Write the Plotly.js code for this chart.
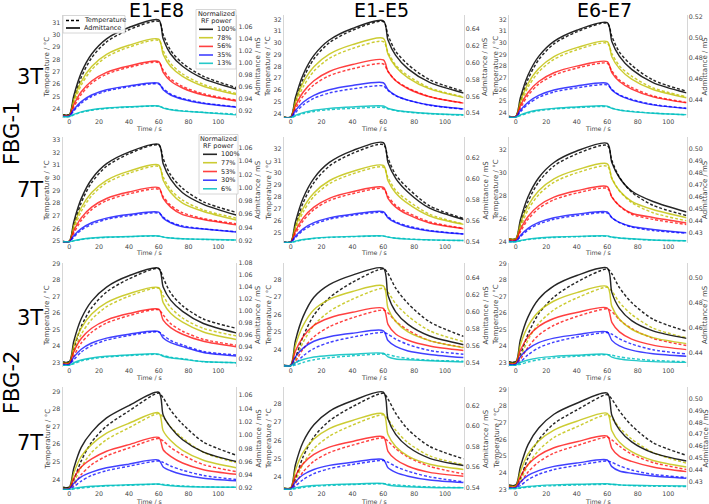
<!DOCTYPE html>
<html>
<head>
<meta charset="utf-8">
<script src="https://cdn.plot.ly/plotly-3.0.1.min.js"></script>
<style>
  html, body { margin: 0; padding: 0; background: #ffffff; }
  #chart { width: 709px; height: 504px; }
</style>
</head>
<body>
<div id="chart"></div>
<script>
// Sample times (s) shared by every curve; RF heating is on from 0 s to 60 s
const time = [-5, 0, 3, 8, 15, 25, 40, 60, 63, 68, 76, 90, 112];

const columnTitles = ['E1-E8', 'E1-E5', 'E6-E7'];
const rowLabels = ['3T', '7T', '3T', '7T'];
const sensorLabels = ['FBG-1', 'FBG-2'];
const power3T = ['100%', '78%', '56%', '35%', '13%'];
const power7T = ['100%', '77%', '53%', '30%', '6%'];

// Each set: five curves, from the highest to the lowest normalized RF power.
// temp_* = FBG temperature (°C), adm_* = electrode admittance (mS)
const temp_FBG1_3T_E1E8 = [
  [23.52,23.52,24.73,26.55,28.14,29.43,30.42,31.1,30.04,28.75,27.69,26.63,25.72],
  [23.48,23.48,24.45,25.91,27.18,28.21,29.0,29.55,28.7,27.67,26.82,25.97,25.24],
  [23.44,23.44,24.13,25.16,26.07,26.8,27.36,27.75,27.15,26.41,25.81,25.21,24.69],
  [23.4,23.4,23.82,24.44,24.99,25.43,25.77,26.0,25.64,25.19,24.83,24.47,24.15],
  [23.36,23.36,23.49,23.7,23.87,24.02,24.12,24.2,24.08,23.94,23.82,23.7,23.55]];
const adm_FBG1_3T_E1E8 = [
  [0.9141,0.9141,0.9455,0.9833,1.0147,1.0399,1.0587,1.0713,1.0399,1.0147,0.9943,0.9738,0.9565],
  [0.9133,0.9133,0.9385,0.9687,0.9939,1.0141,1.0292,1.0393,1.0141,0.9939,0.9776,0.9612,0.9473],
  [0.9125,0.9125,0.9304,0.9519,0.9698,0.9842,0.9949,1.0021,0.9842,0.9698,0.9582,0.9465,0.9367],
  [0.9117,0.9117,0.9226,0.9357,0.9466,0.9553,0.9618,0.9662,0.9553,0.9466,0.9395,0.9324,0.9264],
  [0.9108,0.9108,0.9143,0.9185,0.9221,0.9249,0.927,0.9284,0.9249,0.9221,0.9198,0.9175,0.9136]];

const temp_FBG1_3T_E1E5 = [
  [23.68,23.68,24.98,26.93,28.63,30.01,31.07,31.8,30.66,29.28,28.15,26.85,25.87],
  [23.66,23.66,24.69,26.24,27.59,28.68,29.52,30.1,29.2,28.1,27.2,26.17,25.4],
  [23.64,23.64,24.37,25.46,26.42,27.2,27.79,28.2,27.56,26.79,26.15,25.42,24.87],
  [23.63,23.63,24.06,24.71,25.27,25.73,26.08,26.32,25.94,25.49,25.11,24.68,24.36],
  [23.62,23.62,23.76,23.97,24.16,24.31,24.42,24.5,24.38,24.23,24.1,23.96,23.84]];
const adm_FBG1_3T_E1E5 = [
  [0.5355,0.5355,0.5583,0.5856,0.6084,0.6266,0.6403,0.6494,0.6266,0.6084,0.5925,0.5765,0.564],
  [0.5352,0.5352,0.5539,0.5763,0.595,0.6099,0.6211,0.6286,0.6099,0.595,0.5819,0.5688,0.5586],
  [0.535,0.535,0.5486,0.5649,0.5785,0.5894,0.5976,0.603,0.5894,0.5785,0.569,0.5595,0.552],
  [0.5348,0.5348,0.5431,0.553,0.5612,0.5678,0.5728,0.5761,0.5678,0.5612,0.5555,0.5497,0.5451],
  [0.5347,0.5347,0.5375,0.5408,0.5436,0.5458,0.5475,0.5486,0.5458,0.5436,0.5417,0.5397,0.5382]];

const temp_FBG1_3T_E6E7 = [
  [23.7,23.7,24.97,26.88,28.55,29.9,30.93,31.65,30.54,29.19,28.07,26.8,25.85],
  [23.68,23.68,24.68,26.19,27.5,28.57,29.39,29.95,29.07,28.01,27.13,26.13,25.37],
  [23.66,23.66,24.39,25.49,26.45,27.22,27.82,28.23,27.59,26.81,26.17,25.44,24.89],
  [23.64,23.64,24.08,24.74,25.31,25.78,26.13,26.38,26.0,25.53,25.15,24.71,24.38],
  [23.62,23.62,23.76,23.98,24.17,24.32,24.44,24.52,24.39,24.24,24.12,23.97,23.82]];
const adm_FBG1_3T_E6E7 = [
  [0.4235,0.4235,0.4417,0.4636,0.4818,0.4964,0.5073,0.5146,0.4964,0.4818,0.4691,0.4563,0.4463],
  [0.4233,0.4233,0.4379,0.4553,0.4699,0.4815,0.4903,0.4961,0.4815,0.4699,0.4597,0.4495,0.4415],
  [0.4231,0.4231,0.4338,0.4466,0.4573,0.4659,0.4723,0.4766,0.4659,0.4573,0.4499,0.4424,0.4365],
  [0.4228,0.4228,0.4294,0.4372,0.4438,0.449,0.453,0.4556,0.449,0.4438,0.4392,0.4346,0.431],
  [0.4226,0.4226,0.4248,0.4274,0.4295,0.4312,0.4325,0.4334,0.4312,0.4295,0.428,0.4265,0.4251]];

const temp_FBG1_7T_E1E8 = [
  [24.98,24.98,26.2,28.03,29.63,30.92,31.91,32.6,31.53,30.24,29.17,28.1,27.27],
  [24.97,24.97,25.92,27.34,28.59,29.6,30.37,30.9,30.07,29.06,28.23,27.46,26.81],
  [24.96,24.96,25.62,26.62,27.49,28.19,28.73,29.1,28.52,27.82,27.24,26.78,26.37],
  [24.95,24.95,25.31,25.85,26.32,26.71,27.0,27.2,26.89,26.5,26.19,25.96,25.74],
  [24.94,24.94,25.01,25.12,25.21,25.28,25.34,25.38,25.32,25.24,25.18,25.12,25.07]];
const adm_FBG1_7T_E1E8 = [
  [0.9192,0.9192,0.9484,0.9834,1.0126,1.036,1.0535,1.0652,1.036,1.0126,0.9922,0.9747,0.9586],
  [0.919,0.919,0.942,0.9696,0.9926,1.011,1.0248,1.034,1.011,0.9926,0.9765,0.9639,0.9512],
  [0.9188,0.9188,0.935,0.9544,0.9706,0.9836,0.9933,0.9998,0.9836,0.9706,0.9593,0.952,0.9439],
  [0.9186,0.9186,0.9275,0.9381,0.947,0.954,0.9594,0.9629,0.954,0.947,0.9408,0.9376,0.9332],
  [0.9184,0.9184,0.9201,0.9222,0.924,0.9254,0.9264,0.9271,0.9254,0.924,0.9228,0.9221,0.921]];

const temp_FBG1_7T_E1E5 = [
  [24.28,24.28,25.57,27.51,29.2,30.57,31.62,32.35,31.22,29.85,28.72,27.27,26.22],
  [24.27,24.27,25.26,26.75,28.06,29.11,29.92,30.48,29.61,28.55,27.69,26.57,25.76],
  [24.26,24.26,24.97,26.03,26.96,27.71,28.28,28.68,28.06,27.31,26.69,25.94,25.41],
  [24.25,24.25,24.64,25.23,25.74,26.16,26.48,26.7,26.36,25.94,25.6,25.23,24.94],
  [24.24,24.24,24.32,24.45,24.56,24.65,24.71,24.76,24.69,24.6,24.53,24.44,24.39]];
const adm_FBG1_7T_E1E5 = [
  [0.5397,0.5397,0.5586,0.5813,0.6002,0.6153,0.6266,0.6342,0.6153,0.6002,0.587,0.5718,0.561],
  [0.5396,0.5396,0.5542,0.5717,0.5863,0.5979,0.6067,0.6125,0.5979,0.5863,0.5761,0.5644,0.5564],
  [0.5395,0.5395,0.5499,0.5624,0.5728,0.5812,0.5874,0.5916,0.5812,0.5728,0.5656,0.5577,0.5523],
  [0.5394,0.5394,0.5452,0.5522,0.558,0.5626,0.5661,0.5684,0.5626,0.558,0.5539,0.5501,0.5472],
  [0.5393,0.5393,0.5405,0.542,0.5433,0.5443,0.545,0.5455,0.5443,0.5433,0.5424,0.5417,0.541]];

const temp_FBG1_7T_E6E7 = [
  [24.25,24.25,25.55,27.51,29.22,30.61,31.67,32.4,31.1,29.63,28.33,27.18,26.29],
  [24.25,24.25,25.26,26.78,28.11,29.19,30.01,30.58,29.57,28.43,27.42,26.53,25.83],
  [24.15,24.15,24.87,25.95,26.9,27.66,28.25,28.65,27.93,27.12,26.4,25.95,25.5],
  [24.05,24.05,24.44,25.03,25.54,25.96,26.28,26.5,26.11,25.67,25.28,24.98,24.74],
  [24.0,24.0,24.08,24.19,24.29,24.37,24.44,24.48,24.4,24.32,24.24,24.14,24.08]];
const adm_FBG1_7T_E6E7 = [
  [0.4253,0.4253,0.4411,0.46,0.4758,0.4884,0.4979,0.5042,0.4884,0.4758,0.4648,0.4561,0.4474],
  [0.4253,0.4253,0.4377,0.4526,0.465,0.4749,0.4823,0.4873,0.4749,0.465,0.4563,0.4495,0.4427],
  [0.4243,0.4243,0.4331,0.4437,0.4526,0.4597,0.465,0.4685,0.4597,0.4526,0.4464,0.4429,0.4384],
  [0.4233,0.4233,0.4281,0.4339,0.4388,0.4427,0.4456,0.4475,0.4427,0.4388,0.4354,0.433,0.4303],
  [0.4229,0.4229,0.4239,0.425,0.426,0.4267,0.4273,0.4277,0.4267,0.426,0.4253,0.4243,0.4237]];

const temp_FBG2_3T_E1E8 = [
  [23.05,23.05,23.84,25.19,26.32,27.27,28.06,28.68,28.12,27.22,26.43,25.64,25.08],
  [23.0,23.0,23.63,24.71,25.61,26.38,27.01,27.5,27.05,26.33,25.7,25.07,24.62],
  [22.95,22.95,23.41,24.19,24.84,25.39,25.84,26.2,25.88,25.36,24.9,24.41,24.06],
  [22.9,22.9,23.17,23.64,24.03,24.36,24.64,24.85,24.66,24.34,24.07,23.68,23.47],
  [22.85,22.85,22.94,23.1,23.23,23.34,23.43,23.5,23.44,23.33,23.24,23.06,23.0]];
const adm_FBG2_3T_E1E8 = [
  [0.914,0.914,0.9486,0.9864,1.0162,1.0398,1.0587,1.0713,1.0398,1.0178,0.9989,0.9785,0.9628],
  [0.9126,0.9126,0.9403,0.9706,0.9946,1.0135,1.0286,1.0387,1.0135,0.9958,0.9807,0.9643,0.9517],
  [0.9112,0.9112,0.9313,0.9532,0.9705,0.9842,0.9952,1.0025,0.9842,0.9715,0.9605,0.9486,0.9395],
  [0.9099,0.9099,0.922,0.9352,0.9457,0.954,0.9606,0.965,0.954,0.9463,0.9397,0.9297,0.9237],
  [0.9085,0.9085,0.9126,0.9171,0.9206,0.9234,0.9256,0.9271,0.9234,0.9208,0.9185,0.9145,0.9126]];

const temp_FBG2_3T_E1E5 = [
  [23.1,23.1,23.54,24.75,25.96,26.95,27.83,28.6,28.33,27.5,26.62,25.58,24.75],
  [23.09,23.09,23.44,24.41,25.38,26.17,26.87,27.49,27.27,26.61,25.91,25.07,24.45],
  [23.08,23.08,23.33,24.03,24.73,25.3,25.81,26.25,26.09,25.62,25.11,24.51,24.13],
  [23.07,23.07,23.22,23.64,24.06,24.41,24.71,24.98,24.88,24.6,24.29,23.95,23.74],
  [23.06,23.06,23.12,23.27,23.42,23.54,23.65,23.75,23.72,23.61,23.5,23.4,23.34]];
const adm_FBG2_3T_E1E5 = [
  [0.5368,0.5368,0.5653,0.5937,0.6165,0.6313,0.6426,0.6506,0.6187,0.5994,0.5846,0.5709,0.5607],
  [0.5366,0.5366,0.5599,0.5832,0.6018,0.614,0.6233,0.6298,0.6037,0.5879,0.5757,0.5655,0.5571],
  [0.5364,0.5364,0.5532,0.57,0.5834,0.5921,0.5988,0.6035,0.5847,0.5733,0.5659,0.5592,0.5538],
  [0.5362,0.5362,0.5464,0.5567,0.5648,0.5701,0.5742,0.5771,0.5656,0.5587,0.5534,0.5493,0.5456],
  [0.536,0.536,0.5397,0.5433,0.5462,0.5481,0.5496,0.5506,0.5465,0.544,0.543,0.5418,0.5404]];

const temp_FBG2_3T_E6E7 = [
  [23.05,23.05,23.5,24.73,25.96,26.97,27.87,28.65,28.37,27.53,26.63,25.63,24.9],
  [23.0,23.0,23.36,24.37,25.37,26.19,26.91,27.55,27.32,26.64,25.91,25.09,24.5],
  [22.95,22.95,23.21,23.94,24.67,25.26,25.79,26.25,26.09,25.59,25.06,24.47,24.04],
  [22.9,22.9,23.05,23.48,23.9,24.24,24.55,24.82,24.72,24.44,24.13,23.78,23.53],
  [22.85,22.85,22.9,23.04,23.18,23.29,23.39,23.48,23.45,23.35,23.25,23.14,23.06]];
const adm_FBG2_3T_E6E7 = [
  [0.4329,0.4329,0.4509,0.4689,0.4832,0.4937,0.502,0.508,0.4885,0.4757,0.4659,0.4577,0.4517],
  [0.4322,0.4322,0.4468,0.4615,0.4731,0.4816,0.4883,0.4932,0.4773,0.467,0.459,0.4523,0.4475],
  [0.4316,0.4316,0.4423,0.4529,0.4613,0.4676,0.4724,0.476,0.4645,0.4569,0.4511,0.4463,0.4427],
  [0.4309,0.4309,0.4371,0.4433,0.4483,0.4519,0.4547,0.4568,0.4501,0.4457,0.4423,0.4394,0.4374],
  [0.4303,0.4303,0.4324,0.4344,0.4361,0.4373,0.4382,0.4389,0.4367,0.4352,0.4341,0.4331,0.4325]];

const temp_FBG2_7T_E1E8 = [
  [23.55,23.55,23.98,25.05,26.13,27.04,27.9,28.92,28.65,27.95,27.15,26.13,25.38],
  [23.5,23.5,23.84,24.69,25.54,26.26,26.94,27.75,27.54,26.99,26.35,25.54,24.95],
  [23.47,23.47,23.7,24.27,24.84,25.33,25.79,26.33,26.19,25.82,25.39,24.84,24.44],
  [23.45,23.45,23.58,23.9,24.22,24.49,24.75,25.05,24.97,24.76,24.52,24.22,23.99],
  [23.42,23.42,23.44,23.5,23.56,23.62,23.66,23.72,23.71,23.67,23.62,23.57,23.54]];
const adm_FBG2_7T_E1E8 = [
  [0.9216,0.9216,0.9501,0.9815,1.0043,1.0257,1.0442,1.0642,1.03,1.0114,0.9929,0.9744,0.9601],
  [0.9203,0.9203,0.9429,0.9678,0.9859,1.0029,1.0176,1.0334,1.0063,0.9916,0.9769,0.9621,0.9508],
  [0.9195,0.9195,0.9349,0.9518,0.964,0.9756,0.9855,0.9963,0.9779,0.9679,0.9579,0.9479,0.941],
  [0.919,0.919,0.9277,0.9372,0.9442,0.9507,0.9563,0.9624,0.952,0.9463,0.9407,0.9351,0.9312],
  [0.9182,0.9182,0.9198,0.9216,0.9229,0.9241,0.9252,0.9263,0.9248,0.9238,0.9227,0.922,0.9214]];

const temp_FBG2_7T_E1E5 = [
  [23.38,23.38,23.9,25.1,26.19,27.07,27.85,28.58,28.27,27.49,26.6,25.67,24.99],
  [23.38,23.38,23.78,24.71,25.55,26.23,26.84,27.4,27.16,26.56,25.87,25.15,24.67],
  [23.36,23.36,23.64,24.27,24.86,25.33,25.74,26.13,25.96,25.55,25.08,24.58,24.16],
  [23.34,23.34,23.5,23.85,24.18,24.45,24.68,24.9,24.81,24.57,24.31,24.0,23.73],
  [23.32,23.32,23.35,23.42,23.48,23.53,23.58,23.62,23.6,23.56,23.51,23.45,23.41]];
const adm_FBG2_7T_E1E5 = [
  [0.5397,0.5397,0.5621,0.5844,0.6012,0.6143,0.6245,0.6329,0.6068,0.5919,0.5798,0.5686,0.5616],
  [0.5397,0.5397,0.557,0.5744,0.5874,0.5975,0.6054,0.6119,0.5917,0.5801,0.5707,0.5628,0.5578],
  [0.5393,0.5393,0.5513,0.5634,0.5724,0.5795,0.585,0.5895,0.5754,0.5674,0.5609,0.5549,0.5511],
  [0.539,0.539,0.5458,0.5526,0.5577,0.5617,0.5648,0.5674,0.5594,0.5549,0.5512,0.5475,0.545],
  [0.5386,0.5386,0.5399,0.5412,0.5422,0.543,0.5436,0.5441,0.5426,0.5417,0.541,0.5403,0.5399]];

const temp_FBG2_7T_E6E7 = [
  [23.25,23.25,23.68,24.88,25.97,26.94,27.76,28.68,28.41,27.7,26.83,25.8,25.04],
  [23.2,23.2,23.54,24.48,25.34,26.11,26.75,27.48,27.27,26.71,26.02,25.21,24.57],
  [23.15,23.15,23.39,24.04,24.64,25.17,25.62,26.12,25.97,25.59,25.11,24.61,24.19],
  [23.1,23.1,23.23,23.58,23.9,24.19,24.43,24.7,24.62,24.41,24.16,23.9,23.71],
  [23.05,23.05,23.07,23.13,23.18,23.22,23.26,23.3,23.29,23.26,23.22,23.19,23.17]];
const adm_FBG2_7T_E6E7 = [
  [0.4271,0.4271,0.4426,0.4612,0.4752,0.4868,0.4961,0.5046,0.486,0.4736,0.4635,0.4542,0.4473],
  [0.4264,0.4264,0.4386,0.4533,0.4643,0.4735,0.4809,0.4876,0.4729,0.4631,0.4552,0.4478,0.4423],
  [0.4256,0.4256,0.4341,0.4444,0.4521,0.4585,0.4636,0.4683,0.4581,0.4512,0.447,0.4423,0.4384],
  [0.4249,0.4249,0.4296,0.4352,0.4393,0.4428,0.4456,0.4482,0.4426,0.4389,0.437,0.4347,0.4328],
  [0.4242,0.4242,0.425,0.4259,0.4266,0.4272,0.4277,0.4281,0.4277,0.4272,0.4269,0.4266,0.4263]];

// Panels in reading order: rows (FBG-1 3T, FBG-1 7T, FBG-2 3T, FBG-2 7T) x columns (E1-E8, E1-E5, E6-E7)
const tempSets = [temp_FBG1_3T_E1E8, temp_FBG1_3T_E1E5, temp_FBG1_3T_E6E7,
                  temp_FBG1_7T_E1E8, temp_FBG1_7T_E1E5, temp_FBG1_7T_E6E7,
                  temp_FBG2_3T_E1E8, temp_FBG2_3T_E1E5, temp_FBG2_3T_E6E7,
                  temp_FBG2_7T_E1E8, temp_FBG2_7T_E1E5, temp_FBG2_7T_E6E7];
const admSets = [adm_FBG1_3T_E1E8, adm_FBG1_3T_E1E5, adm_FBG1_3T_E6E7,
                 adm_FBG1_7T_E1E8, adm_FBG1_7T_E1E5, adm_FBG1_7T_E6E7,
                 adm_FBG2_3T_E1E8, adm_FBG2_3T_E1E5, adm_FBG2_3T_E6E7,
                 adm_FBG2_7T_E1E8, adm_FBG2_7T_E1E5, adm_FBG2_7T_E6E7];

// ---- axis scaling per panel ----
const tempRanges = [[23.24,31.62],[23.6,32.37],[23.55,32.37],[24.84,33.24],[24.19,32.98],[23.89,33.14],
                    [22.74,29.02],[23.01,28.93],[22.74,29.02],[23.39,29.27],[23.28,28.93],[22.96,29.14]];
const tempSteps = [1,1,1,1,1,2,1,1,1,1,1,1];
const admRanges = [[0.9084,1.0795],[0.5344,0.6562],[0.4218,0.5221],[0.9165,1.0762],[0.5387,0.6395],[0.4218,0.5095],
                   [0.9054,1.0802],[0.5345,0.6568],[0.4288,0.512],[0.9174,1.0721],[0.5378,0.6379],[0.4229,0.5098]];
const admSteps = [0.02,0.02,0.02,0.02,0.02,0.01,0.02,0.02,0.02,0.02,0.02,0.01];

// ---- page geometry (pixels) ----
const W = 709, H = 504;
const colPx = [[62.6, 236.2], [283.8, 463.6], [509, 686.5]];
const rowPx = [[15, 118], [137, 243], [263, 367], [387, 490]];
const leftTitleX = [47, 268.5, 496];
const rightTitleX = [258, 485.5, 705];
const timeTitleY = [128.5, 252.5, 377, 501];
const px = x => x / W;
const py = y => 1 - y / H;
const axId = n => (n === 1 ? '' : String(n));

const FONT = 'DejaVu Sans, Liberation Sans, sans-serif';
const lineColors = ['rgba(0,0,0,0.85)', 'rgba(191,191,0,0.8)', 'rgba(255,0,0,0.75)',
                    'rgba(0,0,255,0.75)', 'rgba(0,191,191,0.85)'];
const tickFont = { family: FONT, size: 6.3, color: '#444' };
const yTitleFont = { family: FONT, size: 7, color: '#444' };
const xTitleFont = { family: FONT, size: 6.3, color: '#444' };

const traces = [];
const layout = {
  width: W, height: H,
  margin: { l: 0, r: 0, t: 0, b: 0 },
  paper_bgcolor: '#ffffff', plot_bgcolor: '#ffffff',
  showlegend: false,
  font: { family: FONT },
  shapes: [], annotations: []
};

function label(text, x, y, font, opts) {
  layout.annotations.push(Object.assign({
    text: text, xref: 'paper', yref: 'paper', x: px(x), y: py(y),
    xanchor: 'center', yanchor: 'middle', showarrow: false, font: font, borderpad: 0
  }, opts || {}));
}

for (let p = 0; p < 12; p++) {
  const r = Math.floor(p / 3), c = p % 3;
  const xa = p + 1, yt = 2 * p + 1, ya = 2 * p + 2;
  const xName = 'x' + axId(xa), ytName = 'y' + axId(yt), yaName = 'y' + axId(ya);

  for (let i = 0; i < 5; i++) {
    traces.push({
      x: time, y: tempSets[p][i], xaxis: xName, yaxis: ytName,
      type: 'scatter', mode: 'lines', hoverinfo: 'skip',
      line: { color: lineColors[i], width: 1.45, dash: '3px,2px', shape: 'spline', smoothing: 0.8 }
    });
  }
  for (let i = 0; i < 5; i++) {
    traces.push({
      x: time, y: admSets[p][i], xaxis: xName, yaxis: yaName,
      type: 'scatter', mode: 'lines', hoverinfo: 'skip',
      line: { color: lineColors[i], width: 1.45, shape: 'spline', smoothing: 0.8 }
    });
  }

  const xDom = [px(colPx[c][0]), px(colPx[c][1])];
  const yDom = [py(rowPx[r][1]), py(rowPx[r][0])];

  layout['xaxis' + axId(xa)] = {
    domain: xDom, anchor: ytName, range: [-4.5, 112],
    tick0: 0, dtick: 20, ticks: '', ticklabelstandoff: -1, showgrid: false, zeroline: false,
    showline: false, tickfont: tickFont, fixedrange: true
  };
  layout['yaxis' + axId(yt)] = {
    domain: yDom, anchor: xName, side: 'left', range: tempRanges[p], dtick: tempSteps[p],
    ticks: '', showgrid: false, zeroline: false, showline: true,
    linecolor: '#d6d6d6', linewidth: 1, tickfont: tickFont, fixedrange: true
  };
  layout['yaxis' + axId(ya)] = {
    overlaying: ytName, anchor: xName, side: 'right', range: admRanges[p], dtick: admSteps[p],
    tickformat: '.2f', ticks: '', showgrid: false, zeroline: false, showline: true,
    linecolor: '#d6d6d6', linewidth: 1, tickfont: tickFont, fixedrange: true
  };

  // axis titles
  const midY = (rowPx[r][0] + rowPx[r][1]) / 2;
  label('Temperature / °C', leftTitleX[c], midY, yTitleFont, { textangle: -90 });
  label('Admittance / mS', rightTitleX[c], midY, yTitleFont, { textangle: -90 });
  label('Time / s', (colPx[c][0] + colPx[c][1]) / 2, timeTitleY[r], xTitleFont);
}

// ---- column, row and sensor headings ----
const colTitleX = [156, 381, 604];
columnTitles.forEach((t, c) => label(t, colTitleX[c], 10, { family: FONT, size: 19, color: '#000' }));
const rowLabelY = [77, 190, 318, 443];
rowLabels.forEach((t, r) => label(t, 30, rowLabelY[r], { family: FONT, size: 21, color: '#000' }));
const sensorY = [134, 383];
sensorLabels.forEach((t, s) => label(t, 12, sensorY[s], { family: FONT, size: 21, color: '#000' }, { textangle: -90 }));

// ---- legend: line styles ----
const legFont = { family: FONT, size: 6.5, color: '#222' };
function legendBox(x0, y0, x1, y1) {
  layout.shapes.push({ type: 'rect', xref: 'paper', yref: 'paper',
    x0: px(x0), x1: px(x1), y0: py(y1), y1: py(y0),
    fillcolor: 'rgba(255,255,255,0.92)', line: { color: '#cccccc', width: 0.8 } });
}
function legendLine(x0, x1, y, color, dash) {
  layout.shapes.push({ type: 'line', xref: 'paper', yref: 'paper',
    x0: px(x0), x1: px(x1), y0: py(y), y1: py(y),
    line: { color: color, width: 1.6, dash: dash } });
}
function legendText(text, x, y, anchor) {
  label(text, x, y, legFont, { xanchor: anchor || 'left' });
}

legendBox(63, 15.5, 125, 33);
legendLine(66, 80, 20.5, '#000', '3px,2px');
legendLine(66, 80, 28, '#000', 'solid');
legendText('Temperature', 83, 20.5);
legendText('Admittance', 83, 28);

// ---- legends: normalized RF power ----
function powerLegend(labels, x0, y0, x1, y1, titleY, entryY, lineX0, lineX1, textX) {
  legendBox(x0, y0, x1, y1);
  legendText('Normalized', (x0 + x1) / 2, titleY, 'center');
  legendText('RF power', (x0 + x1) / 2, titleY + 6.4, 'center');
  labels.forEach((lab, i) => {
    legendLine(lineX0, lineX1, entryY[i], lineColors[i], 'solid');
    legendText(lab, textX, entryY[i]);
  });
}
powerLegend(power3T, 196, 9.5, 236, 69, 14.3, [29.3, 37.7, 46.4, 55, 63.3], 199, 213, 216);
powerLegend(power7T, 199, 134.5, 238, 194, 139.3, [154.3, 162.7, 171.5, 180.2, 188.8], 203, 217, 220);

Plotly.newPlot('chart', traces, layout, { staticPlot: true, displayModeBar: false });
</script>
</body>
</html>
